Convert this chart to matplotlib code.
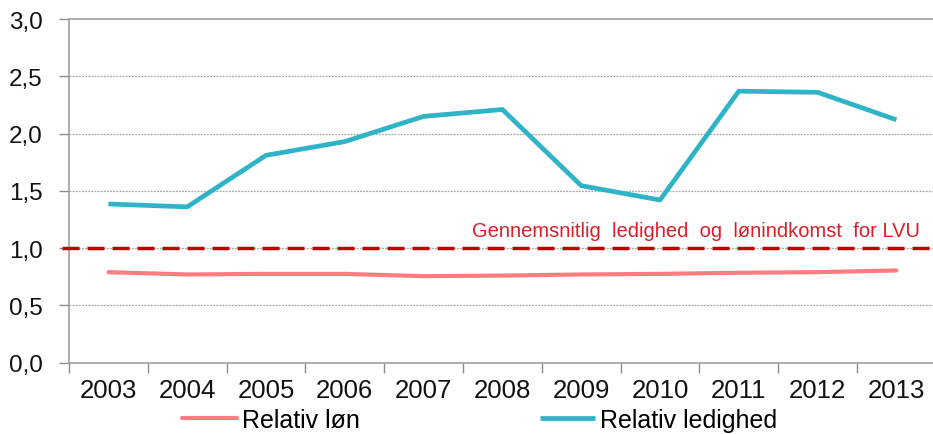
import matplotlib
matplotlib.use('Agg')
import matplotlib.pyplot as plt
import numpy as np

plt.rcParams['font.family'] = ['Liberation Sans', 'DejaVu Sans']

# data
years = ['2003', '2004', '2005', '2006', '2007', '2008',
         '2009', '2010', '2011', '2012', '2013']
relativ_lon = [0.79, 0.77, 0.775, 0.775, 0.755, 0.76,
               0.77, 0.775, 0.785, 0.79, 0.805]
relativ_ledighed = [1.385, 1.36, 1.81, 1.93, 2.15, 2.21,
                    1.545, 1.42, 2.37, 2.36, 2.12]
lvu_level = 1.0
lvu_label = 'Gennemsnitlig  ledighed  og  lønindkomst  for LVU'
y_ticks = [0.0, 0.5, 1.0, 1.5, 2.0, 2.5, 3.0]

col_lon = '#FF7C80'
col_led = '#2FB3C7'
col_lvu = '#C00000'
col_lvu_text = '#DA1F26'
grid_col = '#A6A6A6'

fig = plt.figure(figsize=(9.33, 4.35), dpi=100)
ax = fig.add_axes([0.074, 0.164, 0.929, 0.790])

x = np.arange(len(years))

# gridlines
for yt in y_ticks[1:-1]:
    ax.axhline(yt, color=grid_col, linewidth=0.9, linestyle=(0, (1.5, 1.0)), zorder=1)

# LVU reference line (starts at the tick marks, left of the axis)
ax.plot([-0.008, 1.0], [lvu_level, lvu_level], transform=ax.get_yaxis_transform(),
        color=col_lvu, linewidth=2.5, dashes=(4.9, 2.3), clip_on=False, zorder=3)
ax.text(10.3, 1.15, lvu_label, color=col_lvu_text, fontsize=14.5,
        ha='right', va='center', zorder=4)

l1, = ax.plot(x, relativ_lon, color=col_lon, linewidth=3.0,
              solid_capstyle='round', label='Relativ løn', zorder=5)
l2, = ax.plot(x, relativ_ledighed, color=col_led, linewidth=3.4,
              solid_capstyle='butt', label='Relativ ledighed', zorder=6)

ax.set_xlim(-0.5, 10.5)
ax.set_ylim(0, 3.0)

# tick marks between categories, labels centred
ax.set_xticks(np.arange(-0.5, 10.6, 1.0))
ax.set_xticklabels([])
ax.set_xticks(x, minor=True)
ax.set_xticklabels(years, minor=True, fontsize=18.5)
ax.tick_params(axis='x', which='major', length=7, width=1, color='#8C8C8C', direction='out')
ax.tick_params(axis='x', which='minor', length=0, pad=11, labelcolor='#111111')

ax.set_yticks(y_ticks)
ax.set_yticklabels([f'{v:.1f}'.replace('.', ',') for v in y_ticks], fontsize=17.5)
ax.tick_params(axis='y', length=7, width=1, color='#8C8C8C', pad=12, labelcolor='#111111')

for side in ['left', 'bottom', 'top']:
    ax.spines[side].set_color('#A0A0A0')
    ax.spines[side].set_linewidth(1.2)
ax.spines['right'].set_visible(False)

fig.legend(handles=[l1, l2], loc='center', bbox_to_anchor=(480 / 933, 1 - 421 / 435),
           ncol=2, frameon=False, fontsize=18, handlelength=2.2,
           handletextpad=0.2, columnspacing=7.2, borderpad=0, borderaxespad=0)

fig.savefig('out.png', dpi=100)
